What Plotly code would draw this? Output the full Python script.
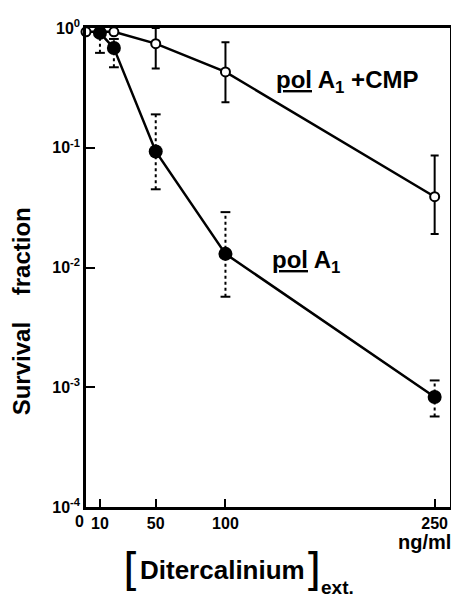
import plotly.graph_objects as go

# Data
conc_cmp = [0, 20, 50, 100, 250]
surv_cmp = [0.93, 0.93, 0.74, 0.43, 0.039]
cmp_err_hi = [None, None, 1.0, 0.76, 0.086]
cmp_err_lo = [None, None, 0.46, 0.24, 0.019]

conc_pol = [10, 20, 50, 100, 250]
surv_pol = [0.91, 0.68, 0.093, 0.013, 0.00083]
pol_err_hi = [0.95, 0.81, 0.19, 0.029, 0.00114]
pol_err_lo = [0.62, 0.47, 0.045, 0.0057, 0.00057]

x_ticks = [0, 10, 50, 100, 250]
x_ticklabels = ["", "10", "50", "100", "250"]
y_ticks = [1, 0.1, 0.01, 0.001, 0.0001]
y_ticklabels = ["10<sup>0</sup>", "10<sup>-1</sup>", "10<sup>-2</sup>", "10<sup>-3</sup>", "10<sup>-4</sup>"]

FONT = "Liberation Sans, Arial, sans-serif"

fig = go.Figure()

# solid error bars for polA1+CMP
vis = [h is not None for h in cmp_err_hi]
err_plus = [h - v for h, v, s in zip(cmp_err_hi, surv_cmp, vis) if s]
err_minus = [v - l for l, v, s in zip(cmp_err_lo, surv_cmp, vis) if s]
fig.add_trace(go.Scatter(
    x=[c for c, s in zip(conc_cmp, vis) if s],
    y=[v for v, s in zip(surv_cmp, vis) if s],
    mode="markers", marker=dict(size=1, color="rgba(0,0,0,0)"),
    error_y=dict(type="data", symmetric=False, array=err_plus, arrayminus=err_minus,
                 color="black", thickness=2, width=4),
    showlegend=False, hoverinfo="skip", cliponaxis=False))

# dotted error bars for polA1
ex, ey = [], []
for c, lo, hi in zip(conc_pol, pol_err_lo, pol_err_hi):
    ex += [c, c, None]
    ey += [lo, hi, None]
fig.add_trace(go.Scatter(x=ex, y=ey, mode="lines",
                         line=dict(color="black", width=2, dash="dot"),
                         showlegend=False, hoverinfo="skip", cliponaxis=False))
fig.add_trace(go.Scatter(x=conc_pol + conc_pol, y=pol_err_lo + pol_err_hi, mode="markers",
                         marker=dict(symbol="line-ew-open", size=7, color="black",
                                     line=dict(color="black", width=2)),
                         showlegend=False, hoverinfo="skip", cliponaxis=False))

# lines + markers
fig.add_trace(go.Scatter(x=conc_cmp, y=surv_cmp, mode="lines+markers",
                         line=dict(color="black", width=2.5),
                         marker=dict(symbol="circle", size=9, color="white",
                                     line=dict(color="black", width=2)),
                         name="polA1+CMP", showlegend=False, cliponaxis=False))
fig.add_trace(go.Scatter(x=conc_pol, y=surv_pol, mode="lines+markers",
                         line=dict(color="black", width=2.5),
                         marker=dict(symbol="circle", size=14, color="black"),
                         name="polA1", showlegend=False, cliponaxis=False))

# page has an 8px body margin: figure is 451x599 placed at (8,8)
fig.update_layout(
    width=451, height=599,
    margin=dict(l=78, r=9, t=20, b=100),
    paper_bgcolor="white", plot_bgcolor="white",
    font=dict(family=FONT, color="black"),
    xaxis=dict(range=[0, 261], tickmode="array", tickvals=x_ticks,
               ticktext=["<b>%s</b>" % t if t else "" for t in x_ticklabels], tickangle=0,
               ticks="inside", ticklen=8, tickwidth=2, tickcolor="black",
               showline=True, linewidth=2.5, linecolor="black", mirror=True,
               showgrid=False, zeroline=False, tickfont=dict(size=16),
               automargin=False),
    yaxis=dict(type="log", range=[-4, 0], tickmode="array", tickvals=y_ticks,
               ticktext=["<b>%s</b>" % t for t in y_ticklabels],
               ticks="inside", ticklen=9, tickwidth=2, tickcolor="black",
               showline=True, linewidth=2.5, linecolor="black", mirror=True,
               showgrid=False, zeroline=False, tickfont=dict(size=16),
               automargin=False),
)

LIGHT = "DejaVu Sans ExtraLight, DejaVu Sans"
C = dict(xanchor="center", yanchor="middle", showarrow=False)
ann = [
    dict(text="<b>0</b>", x=-0.0165, y=-0.031, xref="paper", yref="paper",
         font=dict(size=16), **C),
    dict(text="<b><u>pol</u> A<sub>1</sub> +CMP</b>", x=187, y=-0.45, xref="x", yref="y",
         font=dict(size=24), **C),
    dict(text="<b><u>pol</u> A<sub>1</sub></b>", x=158, y=-1.95, xref="x", yref="y",
         font=dict(size=24), **C),
    dict(text="<b>ng/ml</b>", x=0.93, y=-0.074, xref="paper", yref="paper",
         font=dict(size=20), **C),
    dict(text="<b>Survival    fraction</b>", x=-0.178, y=0.409, xref="paper", yref="paper",
         textangle=-90, font=dict(size=24), **C),
    dict(text="[", x=0.126, y=-0.1315, xref="paper", yref="paper",
         font=dict(size=44, family=LIGHT), **C),
    dict(text="<b>Ditercalinium</b>", x=0.374, y=-0.1315, xref="paper", yref="paper",
         font=dict(size=26), **C),
    dict(text="]", x=0.621, y=-0.1315, xref="paper", yref="paper",
         font=dict(size=44, family=LIGHT), **C),
    dict(text="<b>ext.</b>", x=0.69, y=-0.169, xref="paper", yref="paper",
         font=dict(size=19), **C),
]
fig.update_layout(annotations=ann)

fig.write_html("out.html")
